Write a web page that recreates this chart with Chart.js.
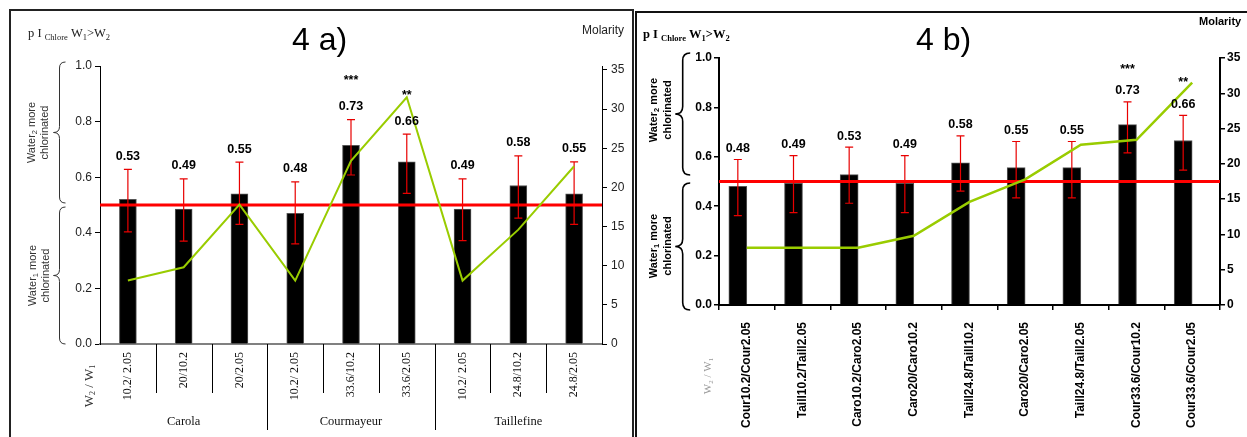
<!DOCTYPE html>
<html>
<head>
<meta charset="utf-8">
<script src="https://cdn.jsdelivr.net/npm/chart.js@4.4.1/dist/chart.umd.min.js"></script>
<style>
  html, body { margin: 0; padding: 0; background: #fff; }
  body { width: 1247px; height: 437px; position: relative; overflow: hidden; }
  .panel { position: absolute; box-sizing: border-box; }
  #panelA { left: 9px; top: 9px; width: 625px; height: 460px; border: 2px solid #222; }
  #panelB { left: 635px; top: 11px; width: 640px; height: 460px; border: 2px solid #111; }
  canvas { position: absolute; left: 0; top: 0; }
</style>
</head>
<body>
<div class="panel" id="panelA"><canvas id="chartA" width="621" height="426"></canvas></div>
<div class="panel" id="panelB"><canvas id="chartB" width="610" height="424"></canvas></div>
<script>
const SANS = 'Arial, "Liberation Sans", Helvetica, sans-serif';
const SERIF = '"Times New Roman", "Liberation Serif", Times, serif';

// ---- panel 4 a) ----
const pairsA = ['10.2/ 2.05', '20/10.2', '20/2.05', '10.2/ 2.05', '33.6/10.2', '33.6/2.05', '10.2/ 2.05', '24.8/10.2', '24.8/2.05'];
const groupsA = ['Carola', 'Courmayeur', 'Taillefine'];
const probA = [0.52, 0.485, 0.54, 0.47, 0.715, 0.655, 0.485, 0.57, 0.54];
const errHighA = [0.628, 0.594, 0.654, 0.583, 0.807, 0.755, 0.594, 0.677, 0.655];
const errLowA = [0.403, 0.37, 0.43, 0.36, 0.608, 0.542, 0.372, 0.453, 0.43];
const textA = ['0.53', '0.49', '0.55', '0.48', '0.73', '0.66', '0.49', '0.58', '0.55'];
const starsA = ['', '', '', '', '***', '**', '', '', ''];
const molarA = [8.1, 9.8, 17.8, 8.1, 23.4, 31.5, 8.1, 14.6, 22.7];

// ---- panel 4 b) ----
const pairsB = ['Cour10.2/Cour2.05', 'Taill10.2/Taill2.05', 'Caro10.2/Caro2.05', 'Caro20/Caro10.2', 'Taill24.8/Taill10.2',
  'Caro20/Caro2.05', 'Taill24.8/Taill2.05', 'Cour33.6/Cour10.2', 'Cour33.6/Cour2.05'];
const probB = [0.48, 0.493, 0.528, 0.493, 0.576, 0.556, 0.556, 0.73, 0.666];
const spacerB = [null, null, null, null, null, null, null, null, null];
const errHighB = [0.589, 0.605, 0.639, 0.605, 0.685, 0.662, 0.662, 0.822, 0.768];
const errLowB = [0.362, 0.374, 0.412, 0.374, 0.461, 0.434, 0.434, 0.616, 0.546];
const textB = ['0.48', '0.49', '0.53', '0.49', '0.58', '0.55', '0.55', '0.73', '0.66'];
const starsB = ['', '', '', '', '', '', '', '***', '**'];
const molarB = [8.1, 8.1, 8.1, 9.8, 14.6, 17.8, 22.7, 23.4, 31.5];

const neutralP = 0.5;

Chart.defaults.font.family = SANS;

// text made of pieces with different fonts / vertical shifts
function richText(ctx, parts, x, y, align) {
  let total = 0;
  parts.forEach(p => { ctx.font = p[1]; total += ctx.measureText(p[0]).width; });
  let cx = align === 'center' ? x - total / 2 : x;
  parts.forEach(p => {
    ctx.font = p[1];
    ctx.fillText(p[0], cx, y + (p[2] || 0));
    cx += ctx.measureText(p[0]).width;
  });
}

function rotatedLines(ctx, lines, x, y, gap) {
  ctx.save();
  ctx.translate(x, y);
  ctx.rotate(-Math.PI / 2);
  ctx.textBaseline = 'middle';
  lines.forEach((parts, i) => richText(ctx, parts, 0, i * gap, 'center'));
  ctx.restore();
}

function brace(ctx, x, y1, y2, w) {
  const ym = (y1 + y2) / 2;
  ctx.beginPath();
  ctx.moveTo(x + w, y1);
  ctx.quadraticCurveTo(x, y1, x, y1 + w);
  ctx.lineTo(x, ym - w);
  ctx.quadraticCurveTo(x, ym, x - w, ym);
  ctx.quadraticCurveTo(x, ym, x, ym + w);
  ctx.lineTo(x, y2 - w);
  ctx.quadraticCurveTo(x, y2, x + w, y2);
  ctx.stroke();
}

function drawErrorsAndNeutral(chart, low, high) {
  const ctx = chart.ctx, y = chart.scales.y, area = chart.chartArea;
  const bars = chart.getDatasetMeta(0).data;
  ctx.save();
  ctx.strokeStyle = '#e80000';
  ctx.lineWidth = 1.2;
  bars.forEach((bar, i) => {
    const yt = y.getPixelForValue(high[i]), yb = y.getPixelForValue(low[i]);
    ctx.beginPath();
    ctx.moveTo(bar.x, yt); ctx.lineTo(bar.x, yb);
    ctx.moveTo(bar.x - 4, yt); ctx.lineTo(bar.x + 4, yt);
    ctx.moveTo(bar.x - 4, yb); ctx.lineTo(bar.x + 4, yb);
    ctx.stroke();
  });
  const yp = y.getPixelForValue(neutralP);
  ctx.strokeStyle = '#ff0000';
  ctx.lineWidth = 3;
  ctx.beginPath();
  ctx.moveTo(area.left, yp); ctx.lineTo(area.right, yp);
  ctx.stroke();
  ctx.restore();
}

function drawValueLabels(chart, high, texts, stars, font, gap, starGap) {
  const ctx = chart.ctx, y = chart.scales.y;
  const bars = chart.getDatasetMeta(0).data;
  ctx.save();
  ctx.fillStyle = '#000';
  ctx.textAlign = 'center';
  ctx.textBaseline = 'middle';
  ctx.font = font;
  bars.forEach((bar, i) => {
    const yt = y.getPixelForValue(high[i]);
    ctx.fillText(texts[i], bar.x, yt - gap);
    if (stars[i]) ctx.fillText(stars[i], bar.x, yt - gap - starGap);
  });
  ctx.restore();
}

const extrasA = {
  id: 'extrasA',
  afterDatasetDraw(chart, args) {
    if (args.index === 0) drawErrorsAndNeutral(chart, errLowA, errHighA);
  },
  afterDraw(chart) {
    const ctx = chart.ctx, x = chart.scales.x, area = chart.chartArea;
    drawValueLabels(chart, errHighA, textA, starsA, 'bold 12.5px ' + SANS, 13, 26);
    ctx.save();
    ctx.fillStyle = '#222';
    ctx.textBaseline = 'alphabetic';
    richText(ctx, [['p I ', '12.5px ' + SERIF], ['Chlore', '8.5px ' + SERIF, 3], [' W', '12.5px ' + SERIF],
      ['1', '8.5px ' + SERIF, 3], ['>W', '12.5px ' + SERIF], ['2', '8.5px ' + SERIF, 3]], 17, 26, 'left');
    ctx.fillStyle = '#000';
    ctx.font = '32px ' + SANS;
    ctx.fillText('4 a)', 281, 39);
    ctx.fillStyle = '#222';
    ctx.font = '12px ' + SANS;
    ctx.fillText('Molarity', 571, 23);

    // braces with their captions
    ctx.strokeStyle = '#333';
    ctx.lineWidth = 1;
    brace(ctx, 48.5, 51, 192, 6);
    brace(ctx, 48.5, 196, 333, 6);
    ctx.fillStyle = '#333';
    const f = '11px ' + SANS, fs = '7.5px ' + SANS;
    rotatedLines(ctx, [[['Water', f], ['2', fs, 3], [' more', f]], [['chlorinated', f]]], 21, 121.5, 13);
    rotatedLines(ctx, [[['Water', f], ['1', fs, 3], [' more', f]], [['chlorinated', f]]], 21.5, 264.5, 13);
    rotatedLines(ctx, [[['W', '13px ' + SERIF], ['2', '8px ' + SERIF, 3], [' / W', '13px ' + SERIF], ['1', '8px ' + SERIF, 3]]], 79, 375, 0);

    // separators between pairs and groups
    ctx.strokeStyle = '#000';
    ctx.lineWidth = 1;
    for (let i = 1; i < pairsA.length; i++) {
      const bx = Math.round((x.getPixelForValue(i - 1) + x.getPixelForValue(i)) / 2) + 0.5;
      ctx.beginPath();
      ctx.moveTo(bx, area.bottom);
      ctx.lineTo(bx, i % 3 === 0 ? 419 : 382);
      ctx.stroke();
    }
    ctx.fillStyle = '#111';
    ctx.font = '12.5px ' + SERIF;
    ctx.textAlign = 'center';
    groupsA.forEach((g, k) => {
      ctx.fillText(g, x.getPixelForValue(k * 3 + 1), 414);
    });
    ctx.restore();
  }
};

const extrasB = {
  id: 'extrasB',
  afterDatasetDraw(chart, args) {
    if (args.index === 0) drawErrorsAndNeutral(chart, errLowB, errHighB);
  },
  afterDraw(chart) {
    const ctx = chart.ctx;
    drawValueLabels(chart, errHighB, textB, starsB, 'bold 12.5px ' + SANS, 11, 21.5);
    ctx.save();
    ctx.fillStyle = '#000';
    ctx.textBaseline = 'alphabetic';
    richText(ctx, [['p I ', 'bold 12.5px ' + SERIF], ['Chlore', 'bold 8.5px ' + SERIF, 3], [' W', 'bold 12.5px ' + SERIF],
      ['1', 'bold 8.5px ' + SERIF, 3], ['>W', 'bold 12.5px ' + SERIF], ['2', 'bold 8.5px ' + SERIF, 3]], 6, 25, 'left');
    ctx.font = '32px ' + SANS;
    ctx.fillText('4 b)', 279, 37);
    ctx.font = 'bold 11px ' + SANS;
    ctx.fillText('Molarity', 562, 12);

    ctx.strokeStyle = '#000';
    ctx.lineWidth = 1.6;
    brace(ctx, 45.7, 40, 162, 7.5);
    brace(ctx, 45.7, 170, 297, 7.5);
    const f = 'bold 11px ' + SANS, fs = 'bold 7.5px ' + SANS;
    rotatedLines(ctx, [[['Water', f], ['2', fs, 3], [' more', f]], [['chlorinated', f]]], 17, 97, 14);
    rotatedLines(ctx, [[['Water', f], ['1', fs, 3], [' more', f]], [['chlorinated', f]]], 17, 233, 14);
    ctx.fillStyle = '#999';
    rotatedLines(ctx, [[['W', '11px ' + SERIF], ['2', '7px ' + SERIF, 3], [' / W', '11px ' + SERIF], ['1', '7px ' + SERIF, 3]]], 71, 363, 0);
    ctx.restore();
  }
};

new Chart(document.getElementById('chartA'), {
  type: 'bar',
  data: {
    labels: pairsA,
    datasets: [
      { type: 'bar', data: probA, yAxisID: 'y', order: 1, backgroundColor: '#000', borderColor: '#555', borderWidth: 1, barThickness: 17 },
      { type: 'line', data: molarA, yAxisID: 'y2', order: 0, borderColor: '#99cc00', borderWidth: 2, pointRadius: 0, tension: 0 }
    ]
  },
  options: {
    responsive: false,
    animation: false,
    layout: { padding: { top: 55 } },
    plugins: { legend: { display: false }, tooltip: { enabled: false } },
    scales: {
      x: {
        grid: { display: false, drawTicks: false },
        border: { color: '#808080', width: 2 },
        ticks: { autoSkip: false, minRotation: 90, maxRotation: 90, padding: 8, color: '#111', font: { family: SERIF, size: 12 } },
        afterFit: s => { s.height = 93; }
      },
      y: {
        position: 'left', min: 0, max: 1,
        grid: { drawOnChartArea: false, tickLength: 5, color: '#000' },
        border: { color: '#000', width: 1 },
        ticks: { stepSize: 0.2, padding: 3, color: '#222', font: { size: 12 }, callback: v => v.toFixed(1) },
        afterFit: s => { s.width = 89; }
      },
      y2: {
        position: 'right', min: 0, max: 35.5,
        grid: { drawOnChartArea: false, tickLength: 5, color: '#000' },
        border: { color: '#000', width: 1 },
        ticks: { stepSize: 5, includeBounds: false, padding: 4, color: '#222', font: { size: 12 } },
        afterFit: s => { s.width = 30; }
      }
    }
  },
  plugins: [extrasA]
});

new Chart(document.getElementById('chartB'), {
  type: 'bar',
  data: {
    labels: pairsB,
    datasets: [
      { type: 'bar', data: probB, yAxisID: 'y', order: 1, backgroundColor: '#000', borderColor: '#555', borderWidth: 1, barThickness: 18 },
      { type: 'bar', data: spacerB, yAxisID: 'y', order: 2, backgroundColor: 'rgba(0,0,0,0)', barThickness: 18 },
      { type: 'line', data: molarB, yAxisID: 'y2', order: 0, borderColor: '#99cc00', borderWidth: 2.5, pointRadius: 0, tension: 0 }
    ]
  },
  options: {
    responsive: false,
    animation: false,
    layout: { padding: { top: 45 } },
    plugins: { legend: { display: false }, tooltip: { enabled: false } },
    scales: {
      x: {
        grid: { display: true, drawOnChartArea: false, tickLength: 5, color: '#000', lineWidth: 1.5 },
        border: { color: '#000', width: 2 },
        ticks: { autoSkip: false, minRotation: 90, maxRotation: 90, padding: 12, color: '#000', font: { size: 12, weight: 'bold' } },
        afterFit: s => { s.height = 132; }
      },
      y: {
        position: 'left', min: 0, max: 1,
        grid: { drawOnChartArea: false, tickLength: 5, color: '#000', lineWidth: 1.5 },
        border: { color: '#000', width: 2 },
        ticks: { stepSize: 0.2, padding: 2, color: '#000', font: { size: 12, weight: 'bold' }, callback: v => v.toFixed(1) },
        afterFit: s => { s.width = 82; }
      },
      y2: {
        position: 'right', min: 0, max: 35,
        grid: { drawOnChartArea: false, tickLength: 5, color: '#000', lineWidth: 1.5 },
        border: { color: '#000', width: 2 },
        ticks: { stepSize: 5, padding: 2, color: '#000', font: { size: 12, weight: 'bold' } },
        afterFit: s => { s.width = 27; }
      }
    }
  },
  plugins: [extrasB]
});
</script>
</body>
</html>
